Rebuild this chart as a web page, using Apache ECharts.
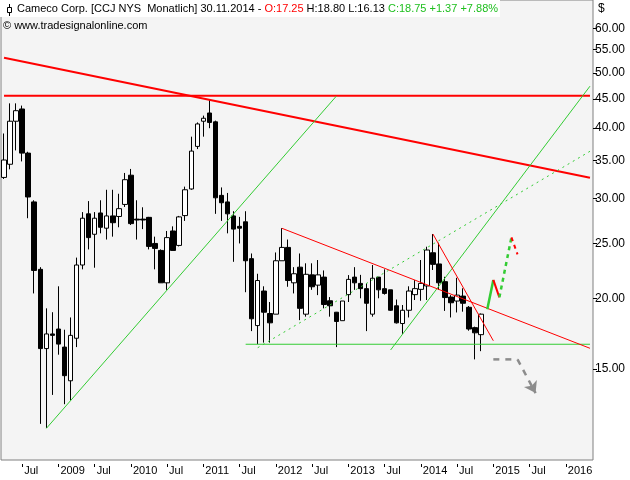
<!DOCTYPE html>
<html>
<head>
<meta charset="utf-8">
<script src="https://cdn.jsdelivr.net/npm/echarts@6/dist/echarts.min.js"></script>
<style>
  html, body { margin: 0; padding: 0; background: #fff; }
  #chart { width: 630px; height: 480px; }
</style>
</head>
<body>
<div id="chart"></div>
<script>
// CCJ monthly bars, 2008-04 .. 2014-11
var opens = [32.7, 34.5, 41.1, 43.2, 36.1, 29.6, 22.5, 16.3, 17.3, 17.65,
  16.4, 14.3, 17.0, 22.9, 28.2, 25.95, 28.3, 26.6, 27.96, 27.9,
  29.3, 33.0, 27.6, 27.6, 27.8, 25.0, 24.3, 21.3, 26.3, 24.8,
  28.0, 31.2, 37.1, 41.1, 42.5, 41.0, 30.4, 29.6, 27.96, 26.8,
  27.3, 23.5, 17.9, 20.6, 18.8, 18.75, 23.3, 24.6, 21.3, 22.7,
  18.75, 22.0, 21.1, 21.8, 19.8, 18.9, 18.26, 20.3, 21.8, 21.25,
  20.8, 18.75, 21.8, 20.8, 20.7, 19.4, 18.05, 19.05, 20.3, 20.74,
  21.03, 24.07, 23.0, 21.4, 20.1, 19.78, 20.18, 19.28, 17.75, 17.25];
var closes = [35.1, 41.1, 42.9, 36.1, 30.2, 22.4, 16.3, 17.3, 17.2, 16.6,
  14.6, 17.2, 22.9, 27.7, 25.6, 27.7, 26.7, 27.96, 27.2, 28.8,
  32.4, 27.1, 27.5, 27.5, 24.7, 24.5, 21.3, 25.6, 24.3, 27.85,
  31.1, 36.4, 40.65, 41.6, 40.9, 30.1, 29.5, 28.2, 26.5, 26.6,
  23.3, 18.4, 21.5, 18.9, 18.1, 23.3, 24.6, 21.5, 22.1, 19.2,
  22.05, 20.96, 22.0, 19.5, 19.4, 18.2, 19.78, 21.6, 21.3, 20.8,
  19.6, 21.7, 20.7, 20.4, 19.05, 18.1, 19.05, 20.6, 20.8, 21.25,
  24.34, 22.96, 21.3, 20.06, 19.64, 20.26, 19.6, 17.65, 17.38, 18.75];
var lows = [32.5, 33.8, 36.5, 34.9, 27.7, 20.4, 12.0, 11.8, 13.5, 15.9,
  13.0, 13.2, 16.4, 22.5, 24.4, 22.65, 26.05, 25.4, 25.7, 26.7,
  29.0, 26.95, 25.4, 26.5, 24.4, 22.5, 21.3, 20.7, 24.3, 24.7,
  27.4, 31.1, 36.7, 38.6, 39.95, 28.2, 27.4, 26.05, 23.2, 25.0,
  20.5, 17.5, 16.6, 16.7, 16.7, 18.75, 23.3, 20.96, 20.4, 18.3,
  18.56, 20.7, 20.26, 19.2, 18.56, 16.4, 18.26, 19.7, 20.7, 20.0,
  17.5, 18.56, 20.0, 20.3, 19.0, 18.05, 17.3, 18.5, 19.86, 19.8,
  19.86, 22.44, 20.7, 19.0, 18.5, 18.88, 18.94, 17.53, 15.6, 16.13];
var highs = [39.1, 44.2, 44.2, 43.8, 36.3, 29.8, 22.7, 19.2, 18.9, 21.0,
  17.6, 18.5, 23.6, 28.4, 29.7, 28.4, 29.8, 31.1, 31.1, 30.6,
  33.3, 33.85, 29.8, 28.96, 27.85, 25.7, 24.4, 26.3, 26.8, 27.96,
  31.5, 38.6, 40.9, 42.05, 44.95, 41.2, 31.4, 30.7, 28.5, 27.85,
  28.5, 24.0, 22.1, 21.0, 19.7, 24.1, 26.6, 25.4, 22.7, 24.0,
  23.06, 23.06, 23.37, 22.4, 20.1, 18.92, 19.78, 21.98, 22.7, 22.0,
  21.25, 22.9, 21.8, 22.5, 20.7, 19.9, 19.46, 21.0, 21.54, 23.37,
  24.67, 25.98, 25.07, 21.83, 20.26, 21.74, 20.83, 19.38, 17.82, 18.80];

var priceTicks = [15, 20, 25, 30, 35, 40, 45, 50, 55, 60];

// drawn lines: [month, price] end points
var resistanceLine = [['2008-04', 45.6], ['2016-05', 45.6]];
var longDownTrend = [['2008-04', 53.2], ['2016-05', 32.67]];
var upTrend2009 = [['2008-11', 11.78], ['2012-11', 45.5]];
var dottedTrend = [['2011-10', 16.36], ['2016-05', 36.37]];
var supportLine = [['2011-08', 16.59], ['2016-05', 16.59]];
var upTrend2013 = [['2013-08', 16.21], ['2016-05', 47.4]];
var downTrend2012 = [['2012-02', 26.59], ['2016-05', 16.32]];
var downTrend2014 = [['2014-03', 25.98], ['2015-01', 16.83]];
var bullPath = [['2014-12', 19.12], ['2015-01', 21.55], ['2015-02', 20.08], ['2015-04', 25.63], ['2015-05', 23.92]];
var bearPath = [['2015-01', 15.6], ['2015-05', 15.6], ['2015-08', 13.6]];

var months = [];
for (var yr = 2008, mo = 4; months.length < 98; mo++) {
  if (mo > 12) { mo = 1; yr++; }
  months.push(yr + '-' + (mo < 10 ? '0' + mo : mo));
}

var candles = opens.map(function (o, i) { return [o, closes[i], lows[i], highs[i]]; });
var last = opens.length - 1;
var chg = closes[last] - closes[last - 1];

var FONT = 'Liberation Sans';
var GREEN = '#33cc33';
var RED = '#ff0000';

function seg(data, color, width, type) {
  return {
    type: 'line', data: data, symbol: 'none', silent: true, animation: false, z: 4,
    lineStyle: { color: color, width: width, type: type || 'solid' }
  };
}

function janOrJul(i, v) {
  var m = v.slice(5);
  return m === '01' || m === '07';
}

var chart = echarts.init(document.getElementById('chart'));
var option = {
  animation: false,
  grid: {
    left: 1, right: 37, top: 0, bottom: 20, show: true,
    backgroundColor: '#f4f4f4', borderColor: '#808080', borderWidth: 1
  },
  xAxis: {
    type: 'category', data: months, boundaryGap: true, offset: 4,
    axisLine: { show: false },
    axisTick: { show: true, alignWithLabel: true, length: 3, interval: janOrJul, lineStyle: { color: '#000' } },
    axisLabel: {
      interval: janOrJul, align: 'left', margin: 1, padding: [0, 0, 0, 2],
      color: '#000', fontSize: 11, fontFamily: FONT,
      formatter: function (v) { return v.slice(5) === '01' ? v.slice(0, 4) : 'Jul'; }
    },
    splitLine: { show: false }
  },
  yAxis: {
    type: 'log', position: 'right', min: 10.36, max: 67.3,
    axisLine: { show: false }, splitLine: { show: false },
    axisTick: { show: true, length: 4, customValues: priceTicks, lineStyle: { color: '#000' } },
    axisLabel: {
      customValues: priceTicks, margin: 2, color: '#000', fontSize: 12, fontFamily: FONT,
      formatter: function (v) { return Number(v).toFixed(2); }
    }
  },
  series: [
    {
      type: 'candlestick', data: candles, barWidth: 5, z: 3,
      itemStyle: { color: '#fff', color0: '#000', borderColor: '#000', borderColor0: '#000', borderColorDoji: '#000', borderWidth: 1 }
    },
    seg(resistanceLine, RED, 2),
    seg(longDownTrend, RED, 2),
    seg(upTrend2009, GREEN, 1),
    seg(dottedTrend, GREEN, 1, [2, 4]),
    seg(supportLine, GREEN, 1),
    seg(upTrend2013, GREEN, 1),
    seg(downTrend2012, RED, 1),
    seg(downTrend2014, RED, 1),
    seg(bullPath.slice(0, 2), GREEN, 2.5),
    seg(bullPath.slice(1, 3), RED, 2),
    seg(bullPath.slice(2, 4), GREEN, 2.5, [4, 4]),
    seg(bullPath.slice(3, 5), RED, 2, [4, 4]),
    {
      type: 'line', data: bearPath.slice(0, 2), symbol: 'none', silent: true, z: 4,
      lineStyle: { color: '#8c8c8c', width: 2.5, type: [6, 6] },
      markLine: {
        silent: true, symbol: ['none', 'arrow'], symbolSize: 11, animation: false,
        label: { show: false },
        lineStyle: { color: '#8c8c8c', width: 2.5, type: [6, 6] },
        data: [[{ coord: bearPath[1] }, { coord: bearPath[2] }]]
      }
    }
  ],
  graphic: [
    { type: 'rect', shape: { x: 0, y: 0, width: 500, height: 17 }, style: { fill: '#fff' }, z: 10 },
    { type: 'line', shape: { x1: 9.5, y1: 4, x2: 9.5, y2: 16 }, style: { stroke: '#000', lineWidth: 1 }, z: 11 },
    { type: 'rect', shape: { x: 7.5, y: 7.5, width: 4, height: 5 }, style: { fill: '#fff', stroke: '#000', lineWidth: 1 }, z: 12 },
    {
      type: 'text', left: 17, top: 3, z: 11,
      style: {
        text: '{k|Cameco Corp. [CCJ NYS  Monatlich] 30.11.2014 - }{r|O:' + opens[last].toFixed(2) + '} {k|H:' + highs[last].toFixed(2) +
          ' L:' + lows[last].toFixed(2) + '} {g|C:' + closes[last].toFixed(2) + ' +' + chg.toFixed(2) + ' +' +
          (chg / closes[last - 1] * 100).toFixed(2) + '%}',
        font: '11px ' + FONT,
        rich: {
          k: { fill: '#000', font: '11px ' + FONT },
          r: { fill: '#ff0000', font: '11px ' + FONT },
          g: { fill: '#1fbf1f', font: '11px ' + FONT }
        }
      }
    },
    { type: 'text', left: 3, top: 20, z: 11, style: { text: '© www.tradesignalonline.com', fill: '#000', font: '11px ' + FONT } },
    { type: 'text', left: 598, top: 3, z: 11, style: { text: '$', fill: '#000', font: '12px ' + FONT } }
  ]
};
chart.setOption(option);
</script>
</body>
</html>
